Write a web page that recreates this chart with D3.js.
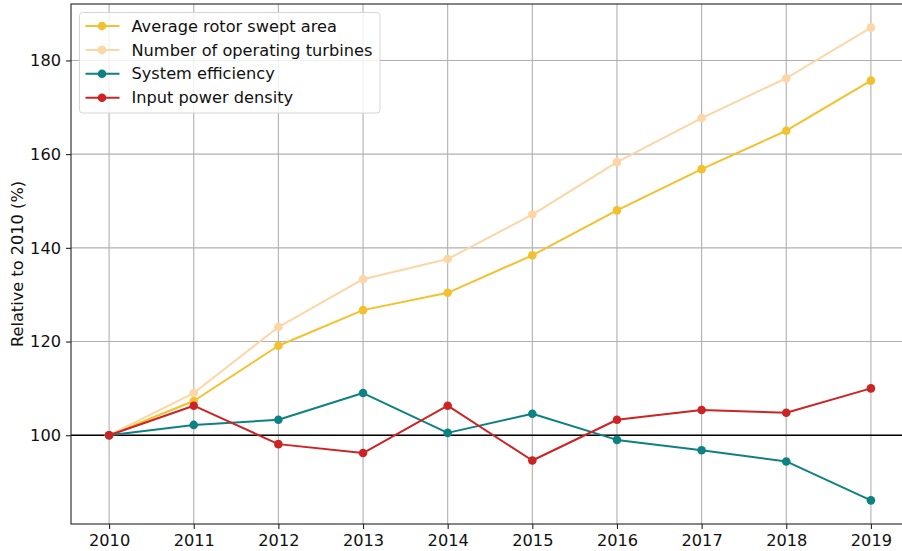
<!DOCTYPE html>
<html>
<head>
<meta charset="utf-8">
<script src="https://cdn.jsdelivr.net/npm/d3@7"></script>
<style>
  body { margin: 0; background: #fff; }
  svg { display: block; font-family: "DejaVu Sans", sans-serif; }
</style>
</head>
<body>
<svg id="chart" width="902" height="551"></svg>
<script>
var years = [2010, 2011, 2012, 2013, 2014, 2015, 2016, 2017, 2018, 2019];
var rotorArea = [100, 107.3, 119.1, 126.7, 130.4, 138.4, 148.0, 156.8, 165.0, 175.7];
var turbines = [100, 109.0, 123.1, 133.3, 137.6, 147.1, 158.3, 167.7, 176.2, 187.0];
var efficiency = [100, 102.2, 103.3, 109.0, 100.5, 104.6, 99.0, 96.8, 94.4, 86.1];
var powerDensity = [100, 106.3, 98.1, 96.2, 106.3, 94.6, 103.3, 105.4, 104.8, 110.0];
var yTicks = [100, 120, 140, 160, 180];

var seriesNames = ["Average rotor swept area", "Number of operating turbines", "System efficiency", "Input power density"];
var seriesColors = ["#f2c12e", "#fcd6a6", "#0e8183", "#cc2424"];
var seriesValues = [rotorArea, turbines, efficiency, powerDensity];

var margin = { left: 71, top: 4, right: -7, bottom: 27 };
var width = 902, height = 551;
var fontSize = 16.2;

var svg = d3.select("#chart");

// x range padded like matplotlib (5% each side)
var x = d3.scaleLinear()
  .domain([2009.55, 2019.45])
  .range([margin.left, width - margin.right]);
var y = d3.scaleLinear()
  .domain([81.05, 192.05])
  .range([height - margin.bottom, margin.top]);

var plot = svg.append("g");

// grid
plot.selectAll("line.vgrid")
  .data(years)
  .enter()
  .append("line")
  .attr("class", "vgrid")
  .attr("x1", (d) => x(d)).attr("x2", (d) => x(d))
  .attr("y1", y.range()[0]).attr("y2", y.range()[1])
  .attr("stroke", "#b0b0b0").attr("stroke-width", 1.1);
plot.selectAll("line.hgrid")
  .data(yTicks)
  .enter()
  .append("line")
  .attr("class", "hgrid")
  .attr("x1", x.range()[0]).attr("x2", x.range()[1])
  .attr("y1", (d) => y(d)).attr("y2", (d) => y(d))
  .attr("stroke", "#b0b0b0").attr("stroke-width", 1.1);

// reference line at 100
plot.append("line")
  .attr("x1", x.range()[0]).attr("x2", x.range()[1])
  .attr("y1", y(100)).attr("y2", y(100))
  .attr("stroke", "#000").attr("stroke-width", 1.3);

var line = d3.line()
  .x((d, i) => x(years[i]))
  .y((d) => y(d));

seriesValues.forEach((vals, k) => {
  plot.append("path")
    .datum(vals)
    .attr("d", line)
    .attr("fill", "none")
    .attr("stroke", seriesColors[k])
    .attr("stroke-width", 2)
    .attr("stroke-linejoin", "round");
  plot.selectAll("circle.s" + k)
    .data(vals)
    .enter()
    .append("circle")
    .attr("class", "s" + k)
    .attr("cx", (d, i) => x(years[i]))
    .attr("cy", (d) => y(d))
    .attr("r", 4.3)
    .attr("fill", seriesColors[k]);
});

// axes
var xAxis = d3.axisBottom(x)
  .tickValues(years)
  .tickFormat(d3.format("d"))
  .tickSize(5)
  .tickPadding(5);
var yAxis = d3.axisLeft(y)
  .tickValues(yTicks)
  .tickSize(5)
  .tickPadding(5);

var gx = svg.append("g")
  .attr("transform", "translate(0," + y.range()[0] + ")")
  .call(xAxis);
var gy = svg.append("g")
  .attr("transform", "translate(" + x.range()[0] + ",0)")
  .call(yAxis);
[gx, gy].forEach((g) => {
  g.select(".domain").remove();
  g.selectAll(".tick line").attr("stroke", "#222").attr("stroke-width", 1.1);
  g.selectAll(".tick text")
    .attr("fill", "#111")
    .style("font-size", fontSize + "px")
    .style("font-family", "DejaVu Sans, sans-serif");
});

// spines
svg.append("rect")
  .attr("x", x.range()[0])
  .attr("y", y.range()[1])
  .attr("width", x.range()[1] - x.range()[0])
  .attr("height", y.range()[0] - y.range()[1])
  .attr("fill", "none")
  .attr("stroke", "#222")
  .attr("stroke-width", 1.1);

// y label
svg.append("text")
  .attr("transform", "translate(23," + ((y.range()[0] + y.range()[1]) / 2) + ") rotate(-90)")
  .attr("text-anchor", "middle")
  .style("font-size", fontSize + "px")
  .attr("fill", "#111")
  .text("Relative to 2010 (%)");

// legend
var legend = svg.append("g").attr("transform", "translate(79.5,12.5)");
legend.append("rect")
  .attr("width", 300.5)
  .attr("height", 100.5)
  .attr("rx", 3)
  .attr("fill", "rgba(255,255,255,0.8)")
  .attr("stroke", "#d6d6d6")
  .attr("stroke-width", 1);
seriesNames.forEach((name, k) => {
  var row = legend.append("g").attr("transform", "translate(0," + (13.5 + k * 23.9) + ")");
  row.append("line")
    .attr("x1", 6).attr("x2", 40)
    .attr("stroke", seriesColors[k]).attr("stroke-width", 2);
  row.append("circle")
    .attr("cx", 22.5).attr("r", 4.3)
    .attr("fill", seriesColors[k]);
  row.append("text")
    .attr("x", 52)
    .attr("dy", "0.35em")
    .style("font-size", fontSize + "px")
    .attr("fill", "#111")
    .text(name);
});
</script>
</body>
</html>
